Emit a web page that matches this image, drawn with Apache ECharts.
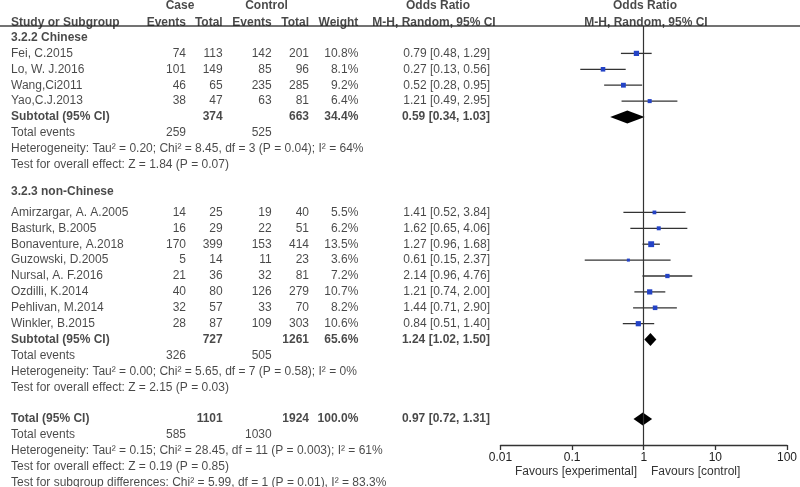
<!DOCTYPE html>
<html>
<head>
<meta charset="utf-8">
<script src="https://cdn.jsdelivr.net/npm/echarts@6/dist/echarts.min.js"></script>
<style>html,body{margin:0;padding:0;background:#fff}#main{width:800px;height:487px}</style>
</head>
<body>
<div id="main"></div>
<script>
// 3.2.2 Chinese
var chnNames = ['Fei, C.2015', 'Lo, W. J.2016', 'Wang,Ci2011', 'Yao,C.J.2013'];
var chnCaseEv = [74, 101, 46, 38];
var chnCaseTot = [113, 149, 65, 47];
var chnCtrlEv = [142, 85, 235, 63];
var chnCtrlTot = [201, 96, 285, 81];
var chnWeight = [10.8, 8.1, 9.2, 6.4];
var chnOR = [0.79, 0.27, 0.52, 1.21];
var chnLo = [0.48, 0.13, 0.28, 0.49];
var chnHi = [1.29, 0.56, 0.95, 2.95];

// 3.2.3 non-Chinese
var nonNames = ['Amirzargar, A. A.2005', 'Basturk, B.2005', 'Bonaventure, A.2018', 'Guzowski, D.2005',
  'Nursal, A. F.2016', 'Ozdilli, K.2014', 'Pehlivan, M.2014', 'Winkler, B.2015'];
var nonCaseEv = [14, 16, 170, 5, 21, 40, 32, 28];
var nonCaseTot = [25, 29, 399, 14, 36, 80, 57, 87];
var nonCtrlEv = [19, 22, 153, 11, 32, 126, 33, 109];
var nonCtrlTot = [40, 51, 414, 23, 81, 279, 70, 303];
var nonWeight = [5.5, 6.2, 13.5, 3.6, 7.2, 10.7, 8.2, 10.6];
var nonOR = [1.41, 1.62, 1.27, 0.61, 2.14, 1.21, 1.44, 0.84];
var nonLo = [0.52, 0.65, 0.96, 0.15, 0.96, 0.74, 0.71, 0.51];
var nonHi = [3.84, 4.06, 1.68, 2.37, 4.76, 2.00, 2.90, 1.40];

// 合计: 亚组1, 亚组2, 总体
var sumLabels = ['Subtotal (95% CI)', 'Subtotal (95% CI)', 'Total (95% CI)'];
var sumCaseTot = [374, 727, 1101];
var sumCtrlTot = [663, 1261, 1924];
var sumWeight = [34.4, 65.6, 100.0];
var sumOR = [0.59, 1.24, 0.97];
var sumLo = [0.34, 1.02, 0.72];
var sumHi = [1.03, 1.50, 1.31];
var sumCaseEv = [259, 326, 585];
var sumCtrlEv = [525, 505, 1030];
var sumHet = [
  'Heterogeneity: Tau\u00b2 = 0.20; Chi\u00b2 = 8.45, df = 3 (P = 0.04); I\u00b2 = 64%',
  'Heterogeneity: Tau\u00b2 = 0.00; Chi\u00b2 = 5.65, df = 7 (P = 0.58); I\u00b2 = 0%',
  'Heterogeneity: Tau\u00b2 = 0.15; Chi\u00b2 = 28.45, df = 11 (P = 0.003); I\u00b2 = 61%'
];
var sumZ = [
  'Test for overall effect: Z = 1.84 (P = 0.07)',
  'Test for overall effect: Z = 2.15 (P = 0.03)',
  'Test for overall effect: Z = 0.19 (P = 0.85)'
];
var subgroupTest = 'Test for subgroup differences: Chi\u00b2 = 5.99, df = 1 (P = 0.01), I\u00b2 = 83.3%';

// 行布局
var ROW0 = 37.5, ROWH = 15.9;
var FONT = 'Liberation Sans, Arial, sans-serif';
var FS = 12;
var colName = 11, colCaseEv = 186, colCaseTot = 222.7, colCtrlEv = 271.7, colCtrlTot = 309, colW = 358.3, colOR = 490;

function fmtOR(o, l, h) { return o.toFixed(2) + ' [' + l.toFixed(2) + ', ' + h.toFixed(2) + ']'; }

var textItems = [];
function txt(x, row, t, align, bold) {
  textItems.push({ value: [x, row], t: String(t), label: { align: align, fontWeight: bold ? 'bold' : 'normal' } });
}

// 表头
txt(180, -1.98, 'Case', 'center', true);
txt(266.5, -1.98, 'Control', 'center', true);
txt(438, -1.98, 'Odds Ratio', 'center', true);
txt(645, -1.98, 'Odds Ratio', 'center', true);
txt(colName, -0.93, 'Study or Subgroup', 'left', true);
txt(colCaseEv, -0.93, 'Events', 'right', true);
txt(colCaseTot, -0.93, 'Total', 'right', true);
txt(colCtrlEv, -0.93, 'Events', 'right', true);
txt(colCtrlTot, -0.93, 'Total', 'right', true);
txt(colW, -0.93, 'Weight', 'right', true);
txt(434, -0.93, 'M-H, Random, 95% CI', 'center', true);
txt(646, -0.93, 'M-H, Random, 95% CI', 'center', true);

var ciData = [], diaData = [];
function addStudies(names, ce, ct, ke, kt, w, or, lo, hi, startRow) {
  for (var i = 0; i < names.length; i++) {
    var r = startRow + i;
    txt(colName, r, names[i], 'left', false);
    txt(colCaseEv, r, ce[i], 'right', false);
    txt(colCaseTot, r, ct[i], 'right', false);
    txt(colCtrlEv, r, ke[i], 'right', false);
    txt(colCtrlTot, r, kt[i], 'right', false);
    txt(colW, r, w[i].toFixed(1) + '%', 'right', false);
    txt(colOR, r, fmtOR(or[i], lo[i], hi[i]), 'right', false);
    ciData.push([or[i], r, lo[i], hi[i], w[i]]);
  }
}
function addSummary(k, row) {
  txt(colName, row, sumLabels[k], 'left', true);
  txt(colCaseTot, row, sumCaseTot[k], 'right', true);
  txt(colCtrlTot, row, sumCtrlTot[k], 'right', true);
  txt(colW, row, sumWeight[k].toFixed(1) + '%', 'right', true);
  txt(colOR, row, fmtOR(sumOR[k], sumLo[k], sumHi[k]), 'right', true);
  diaData.push([sumOR[k], row, sumLo[k], sumHi[k]]);
  txt(colName, row + 1, 'Total events', 'left', false);
  txt(colCaseEv, row + 1, sumCaseEv[k], 'right', false);
  txt(colCtrlEv, row + 1, sumCtrlEv[k], 'right', false);
  txt(colName, row + 2, sumHet[k], 'left', false);
  txt(colName, row + 3, sumZ[k], 'left', false);
}

txt(colName, 0, '3.2.2 Chinese', 'left', true);
addStudies(chnNames, chnCaseEv, chnCaseTot, chnCtrlEv, chnCtrlTot, chnWeight, chnOR, chnLo, chnHi, 1);
addSummary(0, 5);
txt(colName, 9.7, '3.2.3 non-Chinese', 'left', true);
addStudies(nonNames, nonCaseEv, nonCaseTot, nonCtrlEv, nonCtrlTot, nonWeight, nonOR, nonLo, nonHi, 11);
addSummary(1, 19);
addSummary(2, 24);
txt(colName, 28, subgroupTest, 'left', false);

// 森林图区域
var fTop = 26, fBottom = 445;
function rowOf(px) { return (px - ROW0) / ROWH; }

var myChart = echarts.init(document.getElementById('main'));
var option = {
  animation: false,
  backgroundColor: '#fff',
  textStyle: { fontFamily: FONT },
  grid: [
    { left: 0, top: 0, width: 800, height: 487 },
    { left: 500.5, top: fTop, width: 288, height: fBottom - fTop }
  ],
  xAxis: [
    { gridIndex: 0, type: 'value', min: 0, max: 800, show: false },
    {
      gridIndex: 1, type: 'log', logBase: 10, min: 0.01, max: 100, position: 'bottom',
      axisLine: { onZero: false, lineStyle: { color: '#333', width: 1.3 } },
      axisTick: { show: true, length: 5, lineStyle: { color: '#333', width: 1.3 } },
      axisLabel: {
        color: '#222', fontSize: FS, fontFamily: FONT, margin: 7,
        formatter: function (v) { return String(+Number(v).toPrecision(3)); }
      },
      splitLine: { show: false }
    }
  ],
  yAxis: [
    { gridIndex: 0, type: 'value', inverse: true, min: rowOf(0), max: rowOf(487), show: false },
    { gridIndex: 1, type: 'value', inverse: true, min: rowOf(fTop), max: rowOf(fBottom), show: false }
  ],
  graphic: [
    { type: 'line', shape: { x1: 0, y1: 26, x2: 800, y2: 26 }, style: { stroke: '#444', lineWidth: 1.3 } },
    { type: 'text', x: 637, y: 472, style: { text: 'Favours [experimental]', fill: '#333', font: FS + 'px ' + FONT, textAlign: 'right', textVerticalAlign: 'middle' } },
    { type: 'text', x: 651, y: 472, style: { text: 'Favours [control]', fill: '#333', font: FS + 'px ' + FONT, textAlign: 'left', textVerticalAlign: 'middle' } }
  ],
  series: [
    {
      type: 'scatter', xAxisIndex: 0, yAxisIndex: 0, symbolSize: 1,
      itemStyle: { color: 'rgba(0,0,0,0)' }, silent: true,
      label: {
        show: true, position: 'inside', verticalAlign: 'middle',
        color: '#1a1a1a', fontSize: FS, fontFamily: FONT,
        formatter: function (p) { return p.data.t; }
      },
      data: textItems
    },
    {
      type: 'custom', xAxisIndex: 1, yAxisIndex: 1, silent: true,
      encode: { x: [0, 2, 3], y: 1 },
      renderItem: function (params, api) {
        var row = api.value(1);
        var p0 = api.coord([api.value(2), row]);
        var p1 = api.coord([api.value(3), row]);
        var pc = api.coord([api.value(0), row]);
        var s = 1.6 * Math.sqrt(api.value(4));
        return {
          type: 'group', children: [
            { type: 'line', shape: { x1: p0[0], y1: p0[1], x2: p1[0], y2: p1[1] }, style: { stroke: '#333', lineWidth: 1.3 } },
            { type: 'rect', shape: { x: pc[0] - s / 2, y: pc[1] - s / 2, width: s, height: s }, style: { fill: '#2443c6' } }
          ]
        };
      },
      data: ciData,
      markLine: {
        silent: true, symbol: 'none', label: { show: false },
        lineStyle: { color: '#333', width: 1.2, type: 'solid' },
        data: [{ xAxis: 1 }]
      }
    },
    {
      type: 'custom', xAxisIndex: 1, yAxisIndex: 1, silent: true,
      encode: { x: [0, 2, 3], y: 1 },
      renderItem: function (params, api) {
        var row = api.value(1);
        var pl = api.coord([api.value(2), row]);
        var ph = api.coord([api.value(3), row]);
        var pc = api.coord([api.value(0), row]);
        var h = 6.5;
        return {
          type: 'polygon',
          shape: { points: [[pl[0], pc[1]], [pc[0], pc[1] - h], [ph[0], pc[1]], [pc[0], pc[1] + h]] },
          style: { fill: '#000' }
        };
      },
      data: diaData
    }
  ]
};
myChart.setOption(option);
</script>
</body>
</html>
